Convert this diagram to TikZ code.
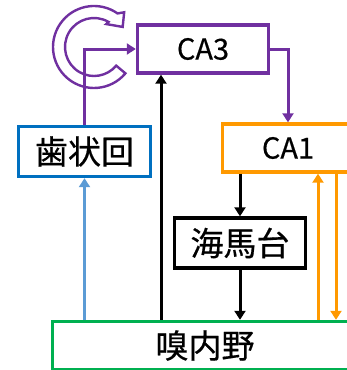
\documentclass[tikz,border=0pt]{standalone}
\usepackage{fontspec}
\setmainfont{Noto Sans CJK JP}[FakeBold=0.5]
\usetikzlibrary{arrows.meta,calc}
\definecolor{cpurple}{HTML}{7030A0}
\definecolor{cblue}{HTML}{0070C0}
\definecolor{clblue}{HTML}{5B9BD5}
\definecolor{corange}{HTML}{FF9900}
\definecolor{cgreen}{HTML}{00B050}
\begin{document}
\begin{tikzpicture}[x=1pt,y=-1pt,
  box/.style={draw, line width=3.4pt, rectangle, inner sep=0pt, minimum width=131pt, minimum height=48pt, fill=white},
  jp/.style={font=\fontsize{33}{38}\selectfont},
  lat/.style={font=\fontsize{29}{34}\selectfont},
  conn/.style={line width=3pt, -{Triangle[width=11pt,length=9pt]}},
]
\useasboundingbox (0,0) rectangle (347,370);
\clip (0,0) rectangle (347,370);

\node[box, draw=cpurple, lat] (ca3) at (203,49) {\raisebox{-3pt}{CA3}};
\node[box, draw=cblue, jp, minimum width=132pt, minimum height=50pt] (den) at (84.5,151.5) {歯状回};
\node[box, draw=corange, lat] (ca1) at (288,148) {\raisebox{-3pt}{CA1}};
\node[box, draw=black, jp, minimum height=50pt] (hip) at (240,243) {海馬台};
\node[box, draw=cgreen, jp, minimum width=305pt, minimum height=48pt] (ent) at (205,345.5) {嗅内野};

\coordinate (xA) at (161,0);
\coordinate (xB) at (318,0);
\coordinate (xC) at (336,0);

% circular self arrow of CA3
\begin{scope}[shift={(94,47)}]
\draw[cpurple, line width=2.4pt, fill=white, line join=miter]
  (-40:41pt) arc[start angle=-40, end angle=-305, radius=41pt]
  -- (49:46pt) -- (35:35pt) -- (62:26pt) -- (60:29pt)
  arc[start angle=60, end angle=320, radius=29pt] -- cycle;
\end{scope}

\draw[conn, cpurple] (den.north) |- (ca3.west);
\draw[conn, clblue] (ent.north -| den.south) -- (den.south);
\draw[conn, black] (ent.north -| xA) -- (ca3.south -| xA);
\draw[conn, cpurple] (ca3.east) -| (ca1.north);
\draw[conn, black] (hip.north |- ca1.south) -- (hip.north);
\draw[conn, black] (hip.south) -- (ent.north -| hip.south);
\draw[conn, corange] (ent.north -| xB) -- (ca1.south -| xB);
\draw[conn, corange] (ca1.south -| xC) -- (ent.north -| xC);
\end{tikzpicture}
\end{document}
